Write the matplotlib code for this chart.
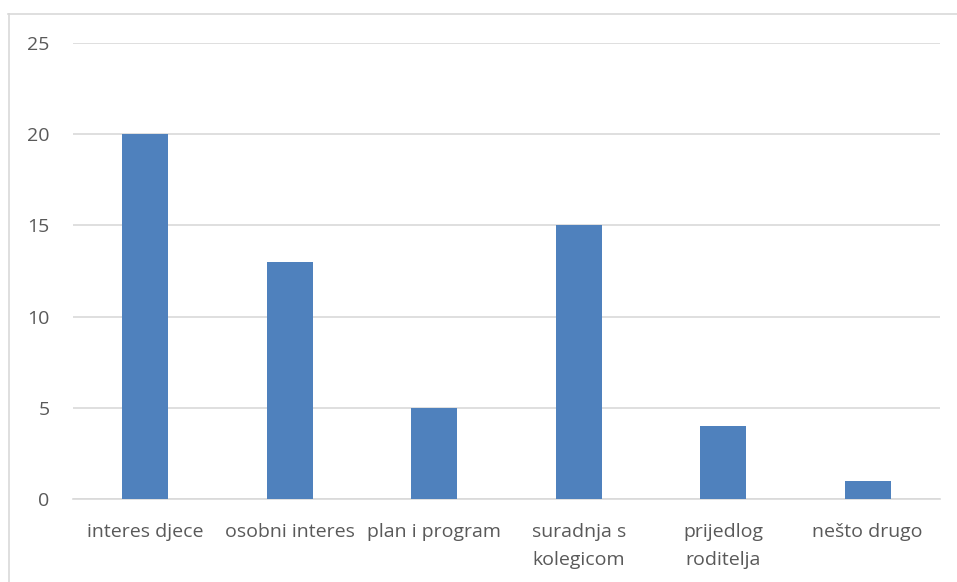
import matplotlib.pyplot as plt
from matplotlib.lines import Line2D

categories = ["interes djece", "osobni interes", "plan i program",
              "suradnja s\nkolegicom", "prijedlog\nroditelja", "nešto drugo"]
values = [20, 13, 5, 15, 4, 1]
yticks = [0, 5, 10, 15, 20, 25]

W, H = 957, 582
fig = plt.figure(figsize=(W / 100, H / 100), dpi=100)
ax = fig.add_axes([73 / W, 1 - 499 / H, (940 - 73) / W, (499 - 43) / H])

ax.bar(range(len(categories)), values, width=0.32, color="#4f81bd", zorder=3)
ax.set_xlim(-0.5, len(categories) - 0.5)
ax.set_ylim(0, 25)
ax.set_yticks(yticks)
ax.yaxis.grid(True, color="#d9d9d9", linewidth=1.2, zorder=0)
ax.set_xticks(range(len(categories)))
ax.set_xticklabels(categories, linespacing=1.7)
ax.tick_params(axis="both", length=0, labelsize=14, labelcolor="#595959",
               labelfontfamily="Open Sans")
ax.tick_params(axis="y", pad=17)
ax.tick_params(axis="x", pad=17.5)
for side in ["top", "right", "left"]:
    ax.spines[side].set_visible(False)
ax.spines["bottom"].set_color("#d9d9d9")
ax.spines["bottom"].set_linewidth(1.2)

# chart border (only top and left edges visible in the crop)
fig.add_artist(Line2D([8 / W, 1], [1 - 13.5 / H, 1 - 13.5 / H], color="#d9d9d9",
                      linewidth=1.2, transform=fig.transFigure))
fig.add_artist(Line2D([8.5 / W, 8.5 / W], [0, 1 - 13.5 / H], color="#d9d9d9",
                      linewidth=1.2, transform=fig.transFigure))

fig.savefig("out.png", dpi=100)
